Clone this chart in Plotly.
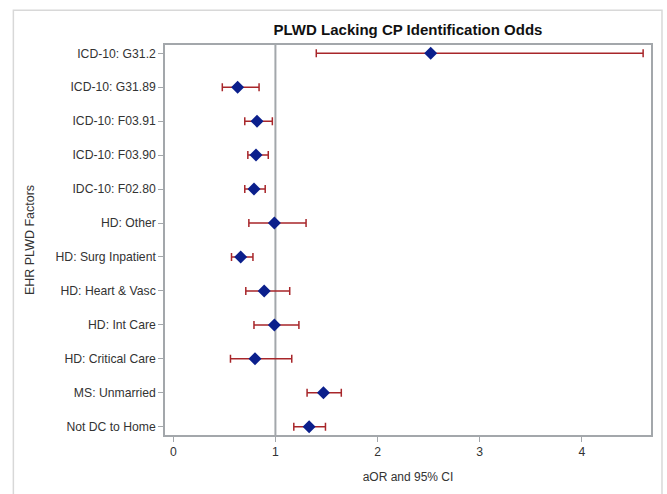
import plotly.graph_objects as go

factors = ["ICD-10: G31.2", "ICD-10: G31.89", "ICD-10: F03.91", "ICD-10: F03.90",
           "IDC-10: F02.80", "HD: Other", "HD: Surg Inpatient", "HD: Heart & Vasc",
           "HD: Int Care", "HD: Critical Care", "MS: Unmarried", "Not DC to Home"]
aor = [2.52, 0.63, 0.82, 0.81, 0.79, 0.99, 0.66, 0.89, 0.99, 0.80, 1.47, 1.33]
ci_low = [1.40, 0.48, 0.70, 0.73, 0.70, 0.74, 0.57, 0.71, 0.79, 0.56, 1.31, 1.18]
ci_high = [4.60, 0.84, 0.97, 0.93, 0.90, 1.30, 0.78, 1.14, 1.23, 1.16, 1.645, 1.49]
x_ticks = [0, 1, 2, 3, 4]

err_plus = [h - v for h, v in zip(ci_high, aor)]
err_minus = [v - l for v, l in zip(aor, ci_low)]

fig = go.Figure()
fig.add_trace(go.Scatter(
    x=aor, y=factors, mode="markers",
    marker=dict(symbol="diamond", size=10, color="#0B1F8C"),
    error_x=dict(type="data", symmetric=False, array=err_plus, arrayminus=err_minus,
                 color="#A8262A", thickness=1.5, width=4),
    showlegend=False, hoverinfo="x+y"))

grey = "#A3A7AB"
fig.add_shape(type="line", xref="x", yref="paper", x0=1, x1=1, y0=0, y1=1,
              line=dict(color=grey, width=2), layer="below")
# outer frame
fig.add_shape(type="rect", xref="paper", yref="paper", x0=-0.312, x1=1.0226,
              y0=-0.2, y1=1.0888, line=dict(color="#D8D8D8", width=1.5), layer="below")

fig.update_layout(
    width=667, height=494,
    margin=dict(l=165, r=16, t=45, b=55),
    paper_bgcolor="white", plot_bgcolor="white",
    font=dict(family="Liberation Sans, Arial, sans-serif", size=12.2, color="#333333"),
    title=dict(text="<b>PLWD Lacking CP Identification Odds</b>", x=0.5, xref="paper",
               xanchor="center", y=1 - 30 / 494, yanchor="middle",
               font=dict(size=15, color="#111111")),
    xaxis=dict(range=[-0.081, 4.677], tickvals=x_ticks, ticks="outside", ticklen=5,
               tickcolor=grey, showgrid=False, zeroline=False, showline=True,
               mirror=True, linecolor=grey, linewidth=1.5,
               title=dict(text="aOR and 95% CI", standoff=14, font=dict(size=12))),
    yaxis=dict(type="category", categoryorder="array", categoryarray=factors,
               range=[11.242, -0.242], ticks="outside", ticklen=5, tickcolor=grey,
               showgrid=False, zeroline=False, showline=True, mirror=True,
               linecolor=grey, linewidth=1.5,
               title=dict(text="EHR PLWD Factors", standoff=18, font=dict(size=12.5))),
)

fig.write_html("out.html", config={"displayModeBar": False},
               post_script="document.body.style.margin='0';document.body.style.overflow='hidden';")
